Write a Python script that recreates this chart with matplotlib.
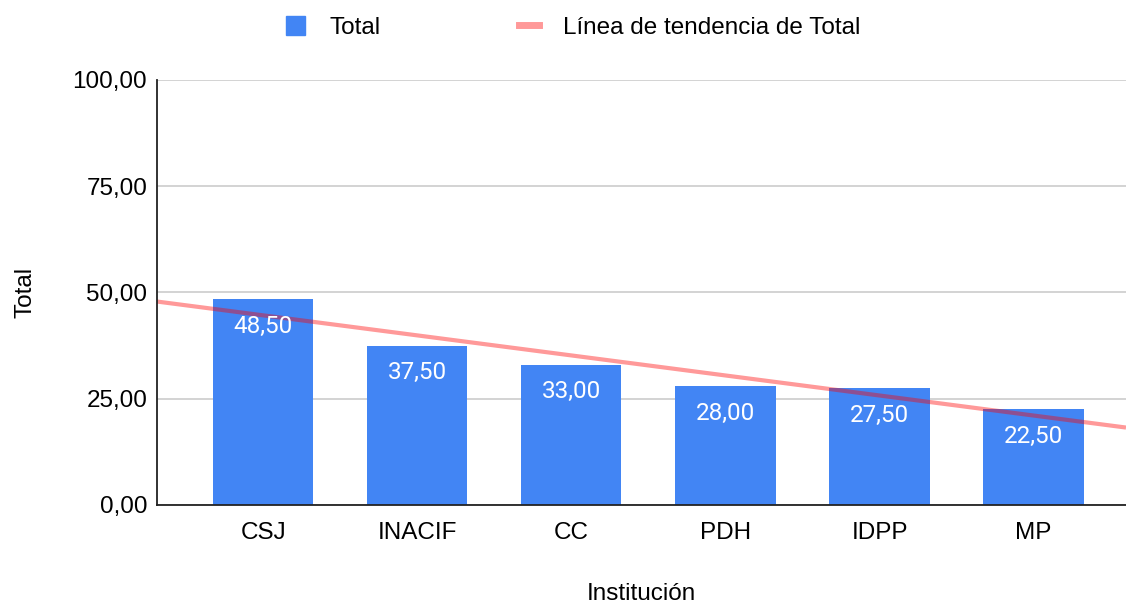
import numpy as np
import matplotlib
matplotlib.use("Agg")
import matplotlib.pyplot as plt
from matplotlib.lines import Line2D
from matplotlib.patches import Patch

# data
instituciones = ["CSJ", "INACIF", "CC", "PDH", "IDPP", "MP"]
totales = [48.50, 37.50, 33.00, 28.00, 27.50, 22.50]
yticks = [0, 25, 50, 75, 100]

plt.rcParams["font.family"] = ["Liberation Sans", "DejaVu Sans"]
fs = 17.5

fig = plt.figure(figsize=(11.26, 6.06), dpi=100)
ax = fig.add_axes([0.1394, 0.1667, 0.8606, 0.7013])

x = np.arange(len(instituciones))
bar_color = "#4285F4"
ax.bar(x, totales, width=0.65, color=bar_color, zorder=2)

# trend line (linear fit)
slope, intercept = np.polyfit(x, totales, 1)
xl = np.array([-0.69, 5.6])
ax.plot(xl, slope * xl + intercept, color="#FF0000", alpha=0.4, lw=3, zorder=3,
        solid_capstyle="butt")

for xi, v in zip(x, totales):
    ax.text(xi, v - 6.4, f"{v:.2f}".replace(".", ","), ha="center", va="center",
            color="white", fontsize=fs, family=["Roboto", "DejaVu Sans"], zorder=4)

ax.set_xlim(-0.69, 5.6)
ax.set_ylim(0, 100)
ax.set_yticks(yticks)
ax.set_yticklabels([f"{t:.2f}".replace(".", ",") for t in yticks], fontsize=fs)
ax.set_xticks(x)
ax.set_xticklabels(instituciones, fontsize=fs)
ax.tick_params(length=0, pad=7)
ax.tick_params(axis="x", pad=12)
ax.yaxis.grid(True, color="#cccccc", lw=1.2, zorder=0)
ax.set_axisbelow(True)
for s in ["top", "right"]:
    ax.spines[s].set_visible(False)
ax.spines["left"].set_color("#222222")
ax.spines["bottom"].set_color("#222222")
ax.spines["left"].set_linewidth(1.3)
ax.spines["bottom"].set_linewidth(1.3)
ax.spines["left"].set_zorder(5)

ax.set_ylabel("Total", fontsize=fs, labelpad=26)
ax.set_xlabel("Institución", fontsize=fs, labelpad=28)

handles = [Patch(facecolor=bar_color, edgecolor=bar_color),
           Line2D([0], [0], color="#FF0000", alpha=0.4, lw=5)]
fig.legend(handles, ["Total", "Línea de tendencia de Total"], loc="upper center",
           bbox_to_anchor=(0.509, 1.009), ncol=2, frameon=False, fontsize=fs,
           handlelength=0.8, handleheight=0.8, columnspacing=5.7, handletextpad=1.0)

fig.savefig("out.png", dpi=100)
